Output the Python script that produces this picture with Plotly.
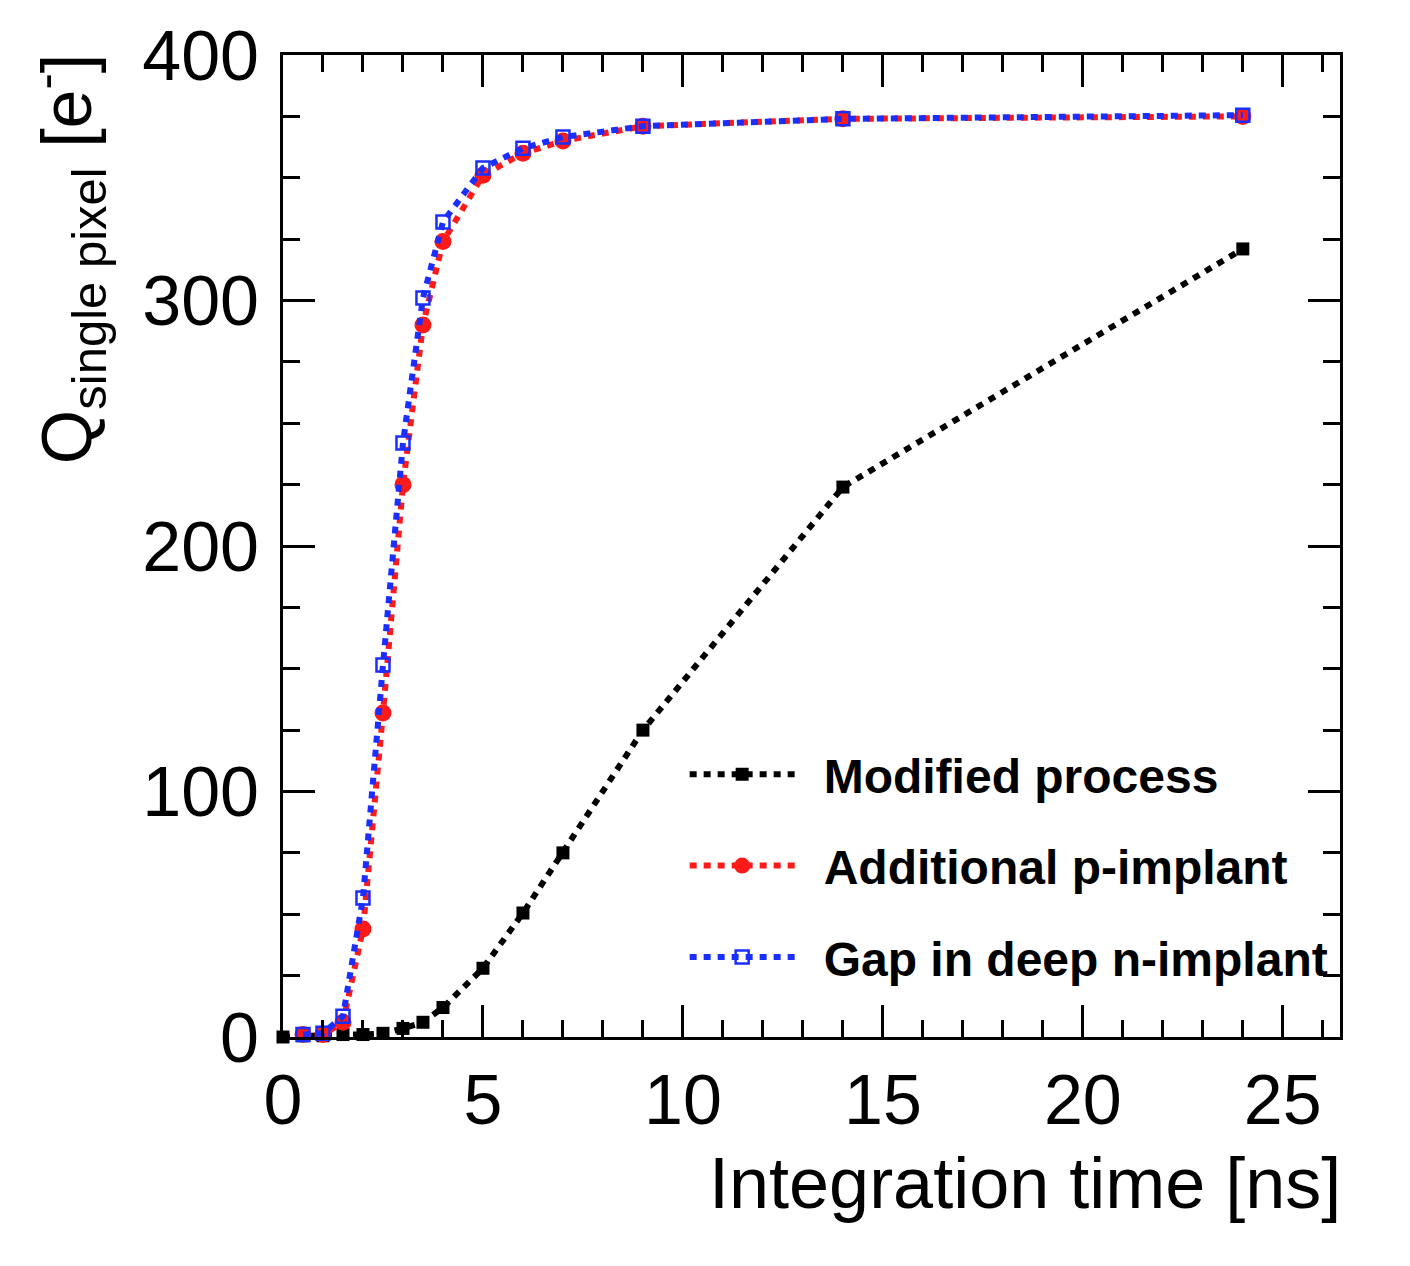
import plotly.graph_objects as go

# Integration time [ns]
t_black = [0, 0.5, 1, 1.5, 2, 2.5, 3, 3.5, 4, 5, 6, 7, 9, 14, 24]
q_black = [0, 0.5, 0.5, 1, 1, 1.5, 3.5, 6, 12, 28, 50.5, 75, 125, 224, 321]

t_red = [0.5, 1, 1.5, 2, 2.5, 3, 3.5, 4, 5, 6, 7, 9, 14, 24]
q_red = [1, 1, 6, 44, 132, 225, 290, 324, 351, 360, 365, 371, 374, 375]

t_blue = [0.5, 1, 1.5, 2, 2.5, 3, 3.5, 4, 5, 6, 7, 9, 14, 24]
q_blue = [1, 1.5, 8.5, 56.6, 151.5, 242, 301, 332, 354, 362, 366.6, 371, 374, 375.5]

names = ["Modified process", "Additional p-implant", "Gap in deep n-implant"]

FONT = "Liberation Sans, Arial, Helvetica, sans-serif"
PAD = "\u2002"

fig = go.Figure()
fig.add_trace(go.Scatter(
    x=t_black, y=q_black, mode="lines+markers", name=PAD + "<b>" + names[0] + "</b>",
    legendgroup="a", cliponaxis=False,
    line=dict(color="black", width=6, dash="7px,7px"),
    marker=dict(symbol="square", size=13, color="black")))
fig.add_trace(go.Scatter(
    x=t_red, y=q_red, mode="lines+markers", name=PAD + "<b>" + names[1] + "</b>",
    legendgroup="b", cliponaxis=False,
    line=dict(color="#ff1a1a", width=6, dash="7px,7px"),
    marker=dict(symbol="circle", size=17, color="#ff1a1a")))
fig.add_trace(go.Scatter(
    x=t_blue, y=q_blue, mode="lines+markers", name=PAD + "<b>" + names[2] + "</b>",
    legendgroup="c", cliponaxis=False,
    line=dict(color="#1a2eff", width=6, dash="7px,7px"),
    marker=dict(symbol="square-open", size=13, color="#1a2eff", line=dict(width=2.5))))

axis_common = dict(
    showgrid=False, zeroline=False, showline=True, linecolor="black", linewidth=3,
    mirror="allticks", ticks="inside", tickcolor="black", tickwidth=3, ticklen=32,
    tickfont=dict(family=FONT, size=70, color="black"),
)

fig.update_xaxes(range=[0, 26.43], tick0=0, dtick=5,
                 minor=dict(dtick=1, ticklen=17, tickwidth=3, tickcolor="black", ticks="inside"),
                 ticklabelstandoff=0, **axis_common)
fig.update_yaxes(range=[0, 400], tick0=0, dtick=100,
                 minor=dict(dtick=25, ticklen=17, tickwidth=3, tickcolor="black", ticks="inside"),
                 ticklabelstandoff=7, **axis_common)

fig.add_annotation(
    text="Integration time [ns]", xref="paper", yref="paper",
    x=1.003, y=-0.106, xanchor="right", yanchor="top", showarrow=False,
    font=dict(family=FONT, size=72, color="black"))
fig.add_annotation(
    text="Q<sub>single pixel</sub> [e<sup>-</sup>]", xref="paper", yref="paper",
    x=-0.156, y=1.003, xanchor="right", yanchor="top", showarrow=False, textangle=-90,
    font=dict(family=FONT, size=70, color="black"))

fig.update_layout(
    width=1410, height=1266,
    margin=dict(l=283, r=70, t=55, b=229),
    paper_bgcolor="white", plot_bgcolor="white",
    showlegend=True,
    legend=dict(x=0.38, y=0.306, xanchor="left", yanchor="top",
                bgcolor="rgba(0,0,0,0)", tracegroupgap=26, itemwidth=105,
                font=dict(family=FONT, size=48, color="black")),
)

fig.write_html("out.html")
